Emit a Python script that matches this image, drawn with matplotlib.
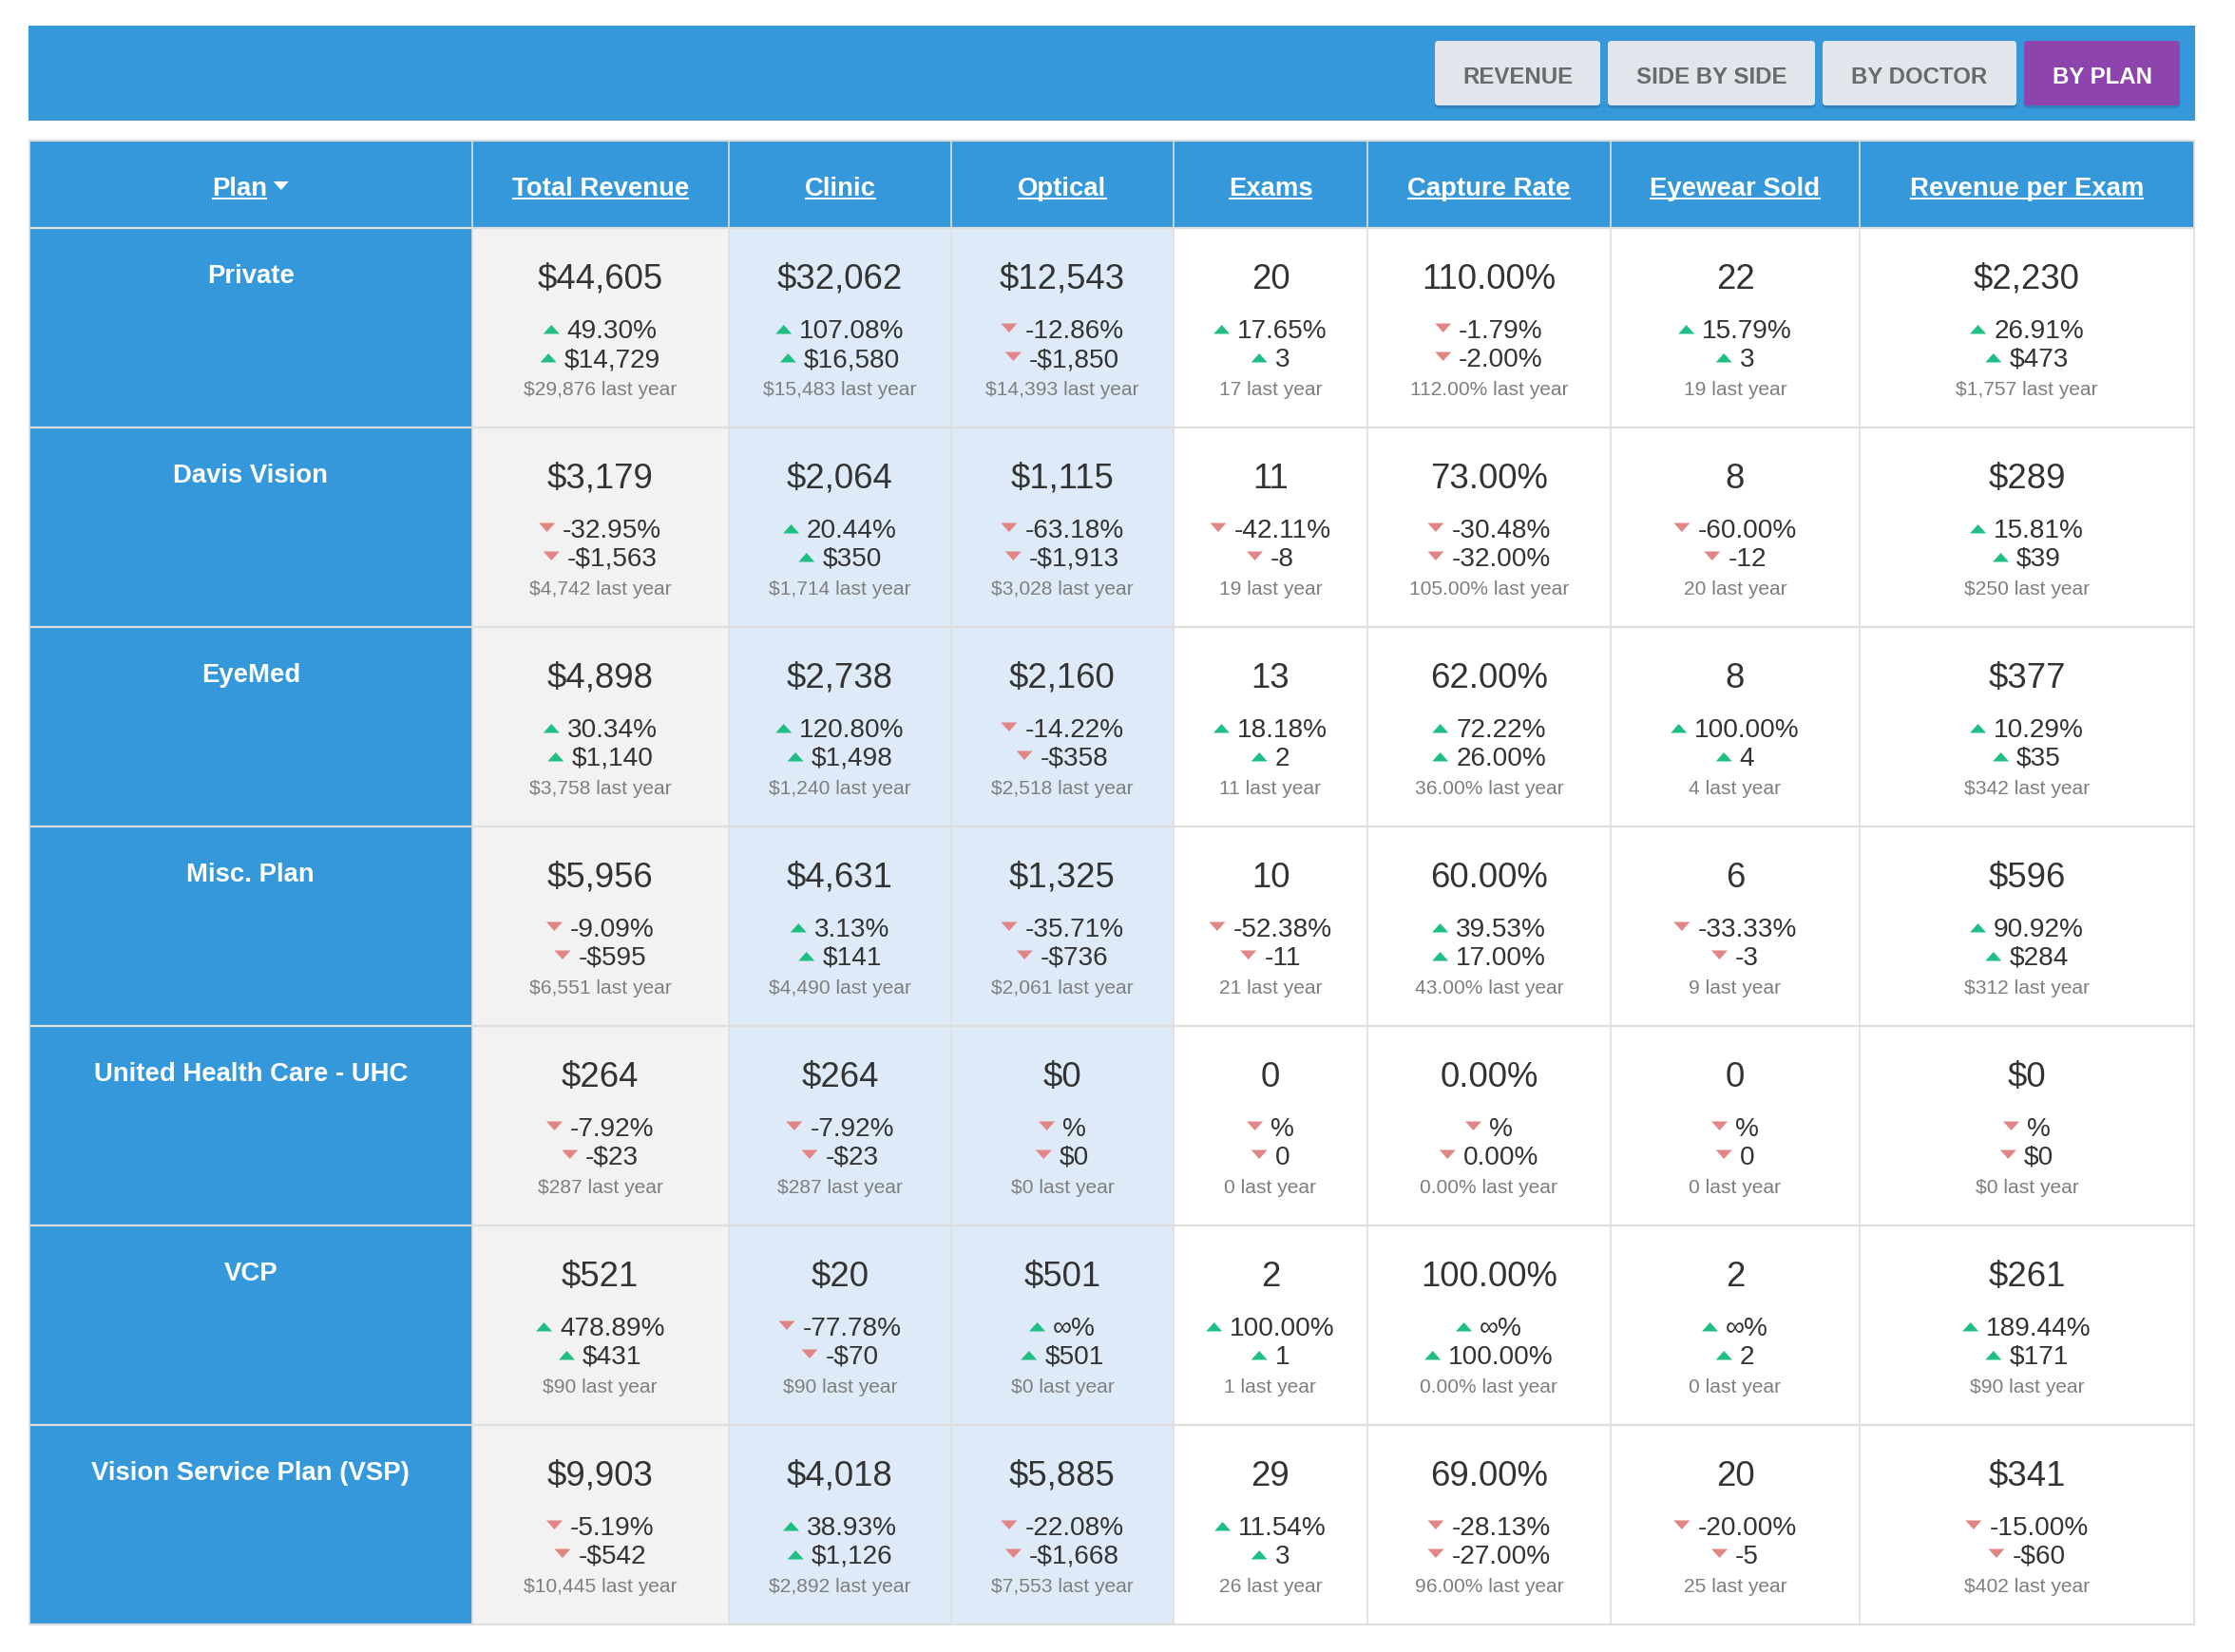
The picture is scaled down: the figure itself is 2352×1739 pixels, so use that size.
import matplotlib
matplotlib.use('Agg')
import matplotlib.pyplot as plt
from matplotlib.patches import FancyBboxPatch, Polygon, Rectangle

plt.rcParams['font.family'] = ['Liberation Sans', 'DejaVu Sans']

BLUE = '#3498db'
PURPLE = '#8e44ad'
LINE = '#dedede'
DARK = '#333333'
GREY = '#7f7f7f'
GREEN = '#1fbf83'
RED = '#e28585'

buttons = ['REVENUE', 'SIDE BY SIDE', 'BY DOCTOR', 'BY PLAN']
headers = ['Plan', 'Total Revenue', 'Clinic', 'Optical', 'Exams',
           'Capture Rate', 'Eyewear Sold', 'Revenue per Exam']
plans = ['Private', 'Davis Vision', 'EyeMed', 'Misc. Plan',
         'United Health Care - UHC', 'VCP', 'Vision Service Plan (VSP)']

# Each row: value, percent change, absolute change, last year.
total_revenue = [
    ('$44,605', '49.30%', '$14,729', '$29,876'),
    ('$3,179', '-32.95%', '-$1,563', '$4,742'),
    ('$4,898', '30.34%', '$1,140', '$3,758'),
    ('$5,956', '-9.09%', '-$595', '$6,551'),
    ('$264', '-7.92%', '-$23', '$287'),
    ('$521', '478.89%', '$431', '$90'),
    ('$9,903', '-5.19%', '-$542', '$10,445'),
]
clinic = [
    ('$32,062', '107.08%', '$16,580', '$15,483'),
    ('$2,064', '20.44%', '$350', '$1,714'),
    ('$2,738', '120.80%', '$1,498', '$1,240'),
    ('$4,631', '3.13%', '$141', '$4,490'),
    ('$264', '-7.92%', '-$23', '$287'),
    ('$20', '-77.78%', '-$70', '$90'),
    ('$4,018', '38.93%', '$1,126', '$2,892'),
]
optical = [
    ('$12,543', '-12.86%', '-$1,850', '$14,393'),
    ('$1,115', '-63.18%', '-$1,913', '$3,028'),
    ('$2,160', '-14.22%', '-$358', '$2,518'),
    ('$1,325', '-35.71%', '-$736', '$2,061'),
    ('$0', '%', '$0', '$0'),
    ('$501', '∞%', '$501', '$0'),
    ('$5,885', '-22.08%', '-$1,668', '$7,553'),
]
exams = [
    ('20', '17.65%', '3', '17'),
    ('11', '-42.11%', '-8', '19'),
    ('13', '18.18%', '2', '11'),
    ('10', '-52.38%', '-11', '21'),
    ('0', '%', '0', '0'),
    ('2', '100.00%', '1', '1'),
    ('29', '11.54%', '3', '26'),
]
capture_rate = [
    ('110.00%', '-1.79%', '-2.00%', '112.00%'),
    ('73.00%', '-30.48%', '-32.00%', '105.00%'),
    ('62.00%', '72.22%', '26.00%', '36.00%'),
    ('60.00%', '39.53%', '17.00%', '43.00%'),
    ('0.00%', '%', '0.00%', '0.00%'),
    ('100.00%', '∞%', '100.00%', '0.00%'),
    ('69.00%', '-28.13%', '-27.00%', '96.00%'),
]
eyewear_sold = [
    ('22', '15.79%', '3', '19'),
    ('8', '-60.00%', '-12', '20'),
    ('8', '100.00%', '4', '4'),
    ('6', '-33.33%', '-3', '9'),
    ('0', '%', '0', '0'),
    ('2', '∞%', '2', '0'),
    ('20', '-20.00%', '-5', '25'),
]
revenue_per_exam = [
    ('$2,230', '26.91%', '$473', '$1,757'),
    ('$289', '15.81%', '$39', '$250'),
    ('$377', '10.29%', '$35', '$342'),
    ('$596', '90.92%', '$284', '$312'),
    ('$0', '%', '$0', '$0'),
    ('$261', '189.44%', '$171', '$90'),
    ('$341', '-15.00%', '-$60', '$402'),
]
columns = [total_revenue, clinic, optical, exams, capture_rate, eyewear_sold,
           revenue_per_exam]
column_fills = ['#f2f2f2', '#dfeaf8', '#dfeaf8', 'white', 'white', 'white',
                'white']

col_edges = [31, 496.5, 767, 1001, 1235, 1439, 1695, 1957, 2309]
table_top = 149
header_bottom = 241
row_height = 210
button_edges = [(1510, 1684), (1692, 1910), (1918, 2122), (2130, 2294)]


def px(size):
  return size * 72 / 100


def width(text, renderer):
  return text.get_window_extent(renderer).width


def triangle(ax, x, y, down):
  w, h = 17, 9.5
  if down:
    points = [(x, y), (x + w, y), (x + w / 2, y + h)]
  else:
    points = [(x, y + h), (x + w, y + h), (x + w / 2, y)]
  color = RED if down else GREEN
  ax.add_patch(Polygon(points, closed=True, color=color, lw=0, zorder=4))


def change_line(ax, renderer, center, baseline, label, down):
  text = ax.text(
      center, baseline, label, fontsize=px(28), color=DARK, ha='left',
      va='baseline', zorder=4)
  w = width(text, renderer)
  start = center - (17 + 8 + w) / 2
  text.set_x(start + 25)
  triangle(ax, start, baseline - (14.5 if down else 13), down)


def link(ax, renderer, x, baseline, label):
  text = ax.text(
      x, baseline, label, fontsize=px(27.5), fontweight='bold', color='white',
      ha='center', va='baseline', zorder=4)
  w = width(text, renderer)
  ax.plot(
      [x - w / 2, x + w / 2], [baseline + 3.5, baseline + 3.5], color='white',
      lw=1.5, solid_capstyle='butt', zorder=4)
  return w


def main():
  fig = plt.figure(figsize=(23.52, 17.4), dpi=100)
  ax = fig.add_axes([0, 0, 1, 1])
  ax.set_xlim(0, 2352)
  ax.set_ylim(1740, 0)
  ax.axis('off')
  renderer = fig.canvas.get_renderer()

  # Top banner and its buttons.
  ax.add_patch(Rectangle((30, 28), 2280, 99.5, color=BLUE, lw=0))
  for i, (label, (x0, x1)) in enumerate(zip(buttons, button_edges)):
    active = i == len(buttons) - 1
    for offset, color in ((3, '#2f80ba'), (0, PURPLE if active else '#e1e6ed')):
      ax.add_patch(FancyBboxPatch(
          (x0 + 2, 46 + offset), x1 - x0 - 4, 64,
          boxstyle='round,pad=2,rounding_size=4', fc=color, ec='none',
          zorder=2))
    ax.text(
        (x0 + x1) / 2, 88, label, fontsize=px(24), fontweight='bold',
        color='white' if active else '#6a6a6a', ha='center', va='baseline',
        zorder=3)

  # Cell backgrounds.
  table_bottom = header_bottom + row_height * len(plans)
  ax.add_patch(Rectangle(
      (col_edges[0], table_top), col_edges[-1] - col_edges[0],
      header_bottom - table_top, color=BLUE, lw=0))
  ax.add_patch(Rectangle(
      (col_edges[0], header_bottom), col_edges[1] - col_edges[0],
      table_bottom - header_bottom, color=BLUE, lw=0))
  for j, fill in enumerate(column_fills):
    ax.add_patch(Rectangle(
        (col_edges[j + 1], header_bottom), col_edges[j + 2] - col_edges[j + 1],
        table_bottom - header_bottom, color=fill, lw=0))

  # Grid lines.
  for x in col_edges:
    ax.plot([x, x], [table_top, table_bottom], color=LINE, lw=1.2, zorder=3)
  for i in range(len(plans) + 2):
    y = table_top if i == 0 else header_bottom + row_height * (i - 1)
    ax.plot(
        [col_edges[0], col_edges[-1]], [y, y], color=LINE, lw=1.6,
        solid_capstyle='projecting', zorder=3)

  # Header row, the sort arrow sits after the first label.
  centers = [(a + b) / 2 for a, b in zip(col_edges[:-1], col_edges[1:])]
  for j, label in enumerate(headers):
    if j == 0:
      x = centers[0] - 12
      w = link(ax, renderer, x, 206, label)
      x0 = x + w / 2 + 7
      ax.add_patch(Polygon(
          [(x0, 192), (x0 + 16, 192), (x0 + 8, 201)], closed=True,
          color='white', lw=0, zorder=4))
    else:
      link(ax, renderer, centers[j], 206, label)

  # Body rows.
  for i, plan in enumerate(plans):
    top = header_bottom + row_height * i
    ax.text(
        centers[0], top + 57, plan, fontsize=px(27.5), fontweight='bold',
        color='white', ha='center', va='baseline', zorder=4)
    for j, column in enumerate(columns):
      value, pct, delta, last = column[i]
      center = centers[j + 1]
      down = pct.startswith('-') or pct == '%'
      ax.text(
          center, top + 63, value, fontsize=px(36.5), color=DARK, ha='center',
          va='baseline', zorder=4)
      change_line(ax, renderer, center, top + 115, pct, down)
      change_line(ax, renderer, center, top + 145, delta, down)
      ax.text(
          center, top + 175, f'{last} last year', fontsize=px(21), color=GREY,
          ha='center', va='baseline', zorder=4)

  fig.savefig('out.png', dpi=100, facecolor='white')


main()
